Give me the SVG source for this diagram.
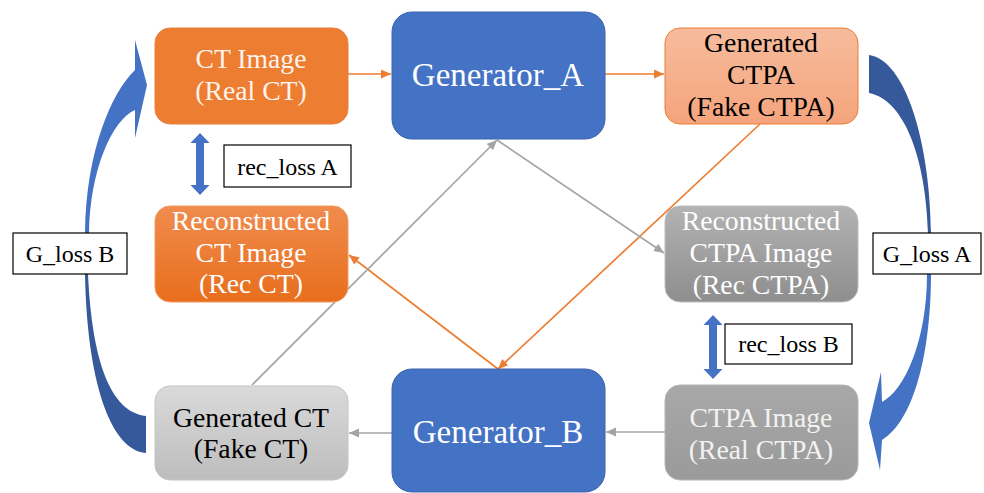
<svg xmlns="http://www.w3.org/2000/svg" width="984" height="493" viewBox="0 0 984 493">
<style>
text{font-family:'Liberation Serif','Times New Roman',serif;text-anchor:middle}
.box{font-size:27.7px}
.gen{font-size:33px;fill:#fff}
.lbl{font-size:24px;fill:#000}
.w{fill:#fff}
.k{fill:#000}
.lb{fill:#fff;stroke:#000;stroke-width:1.2}
.oc{stroke:#ED7D31;stroke-width:1.7;fill:none;marker-end:url(#ao)}
.gc{stroke:#A5A5A5;stroke-width:1.7;fill:none;marker-end:url(#ag)}
</style>
<defs>
<marker id="ao" markerUnits="userSpaceOnUse" markerWidth="12" markerHeight="10" refX="10" refY="4.5" orient="auto"><path d="M0,0 L10,4.5 L0,9 Z" fill="#ED7D31"/></marker>
<marker id="ag" markerUnits="userSpaceOnUse" markerWidth="12" markerHeight="10" refX="10" refY="4.5" orient="auto"><path d="M0,0 L10,4.5 L0,9 Z" fill="#A5A5A5"/></marker>
<linearGradient id="gFake" x1="0" y1="0" x2="0" y2="1"><stop offset="0" stop-color="#F7BC9D"/><stop offset="1" stop-color="#F4A47C"/></linearGradient>
<linearGradient id="gRecCT" x1="0" y1="0" x2="0" y2="1"><stop offset="0" stop-color="#F08C4E"/><stop offset="1" stop-color="#E86E1C"/></linearGradient>
<linearGradient id="gRecCTPA" x1="0" y1="0" x2="0" y2="1"><stop offset="0" stop-color="#B3B3B3"/><stop offset="1" stop-color="#8E8E8E"/></linearGradient>
<linearGradient id="gReal" x1="0" y1="0" x2="0" y2="1"><stop offset="0" stop-color="#A8A8A8"/><stop offset="1" stop-color="#9A9A9A"/></linearGradient>
<linearGradient id="gFakeCT" x1="0" y1="0" x2="0" y2="1"><stop offset="0" stop-color="#DADADA"/><stop offset="1" stop-color="#BDBDBD"/></linearGradient>
</defs>
<rect width="984" height="493" fill="#fff"/>

<g id="connectors">
<line class="oc" x1="348" y1="74" x2="391" y2="74"/>
<line class="oc" x1="605" y1="74" x2="664" y2="74"/>
<line class="oc" x1="760" y1="124" x2="498" y2="369"/>
<line class="oc" x1="498" y1="369" x2="349" y2="255"/>
<line class="gc" x1="252" y1="385" x2="497" y2="140"/>
<line class="gc" x1="497" y1="140" x2="664" y2="253"/>
<line class="gc" x1="392" y1="433" x2="349" y2="433"/>
<line class="gc" x1="665" y1="432" x2="606" y2="432"/>
</g>

<g id="ct-image">
<rect x="155" y="28" width="193" height="96" rx="15" fill="#ED7D31" stroke="#E8803E" stroke-width="1"/>
<text class="box" fill="#FDF3EC" x="251" y="68">CT Image</text>
<text class="box" fill="#FDF3EC" x="251" y="100">(Real CT)</text>
</g>

<g id="generator-a">
<rect x="392" y="12" width="213" height="127" rx="20" fill="#4472C4" stroke="#3A63AD" stroke-width="1"/>
<text class="gen" x="498" y="86">Generator_A</text>
</g>

<g id="generated-ctpa">
<rect x="665" y="28" width="193" height="96" rx="15" fill="url(#gFake)" stroke="#ED7D31" stroke-width="1"/>
<text class="box k" x="761" y="52">Generated</text>
<text class="box k" x="761" y="84">CTPA</text>
<text class="box k" x="761" y="116">(Fake CTPA)</text>
</g>

<g id="reconstructed-ct">
<rect x="155" y="206" width="193" height="96" rx="15" fill="url(#gRecCT)" stroke="#F09A64" stroke-width="1"/>
<text class="box w" x="251" y="230">Reconstructed</text>
<text class="box w" x="251" y="262">CT Image</text>
<text class="box w" x="251" y="293">(Rec CT)</text>
</g>

<g id="reconstructed-ctpa">
<rect x="665" y="206" width="193" height="96" rx="15" fill="url(#gRecCTPA)" stroke="#BDBDBD" stroke-width="1"/>
<text class="box w" x="761" y="230">Reconstructed</text>
<text class="box w" x="761" y="262">CTPA Image</text>
<text class="box w" x="761" y="294">(Rec CTPA)</text>
</g>

<g id="generated-ct">
<rect x="155" y="386" width="193" height="94" rx="15" fill="url(#gFakeCT)" stroke="#C4C4C4" stroke-width="1"/>
<text class="box k" x="251" y="427">Generated CT</text>
<text class="box k" x="251" y="458">(Fake CT)</text>
</g>

<g id="generator-b">
<rect x="392" y="369" width="213" height="123" rx="20" fill="#4472C4" stroke="#3A63AD" stroke-width="1"/>
<text class="gen" x="498" y="443">Generator_B</text>
</g>

<g id="ctpa-image">
<rect x="665" y="385" width="193" height="95" rx="15" fill="url(#gReal)" stroke="#B5B5B5" stroke-width="1"/>
<text class="box" fill="#F2F2F2" x="761" y="427">CTPA Image</text>
<text class="box" fill="#F2F2F2" x="761" y="459">(Real CTPA)</text>
</g>

<g id="rec-loss-a">
<path d="M200,133 L209.5,143 L204,143 L204,185 L209.5,185 L200,195 L190.5,185 L196,185 L196,143 L190.5,143 Z" fill="#4472C4"/>
<rect class="lb" x="224" y="145" width="127" height="42"/>
<text class="lbl" x="287.5" y="175">rec_loss A</text>
</g>

<g id="rec-loss-b">
<path d="M713,315 L722.5,325 L717,325 L717,369 L722.5,369 L713,379 L703.5,369 L709,369 L709,325 L703.5,325 Z" fill="#4472C4"/>
<rect class="lb" x="725" y="324" width="127" height="40"/>
<text class="lbl" x="788.5" y="352">rec_loss B</text>
</g>

<g id="g-loss-b">
<path d="M85,274 L88,274 C92,360 110,412 146,416 L146,453 C110,450 87,380 85,274 Z" fill="#35599B"/>
<path d="M85,233 C86,150 112,92 135,70 L135,40 L147,85 L135,138 L135,110 C112,120 90,170 89,233 Z" fill="#4472C4"/>
<rect class="lb" x="13" y="233" width="114" height="41"/>
<text class="lbl" x="70" y="262">G_loss B</text>
</g>

<g id="g-loss-a">
<path d="M869,55 C905,60 930,140 931,233 L928,233 C926,160 905,100 869,93 Z" fill="#35599B"/>
<path d="M927,274 L931,274 C931,350 915,420 882,440 L880,470 L869,423 L881,372 L882,402 C905,390 927,340 927,274 Z" fill="#4472C4"/>
<rect class="lb" x="873" y="233" width="108" height="41"/>
<text class="lbl" x="927" y="262">G_loss A</text>
</g>
</svg>
